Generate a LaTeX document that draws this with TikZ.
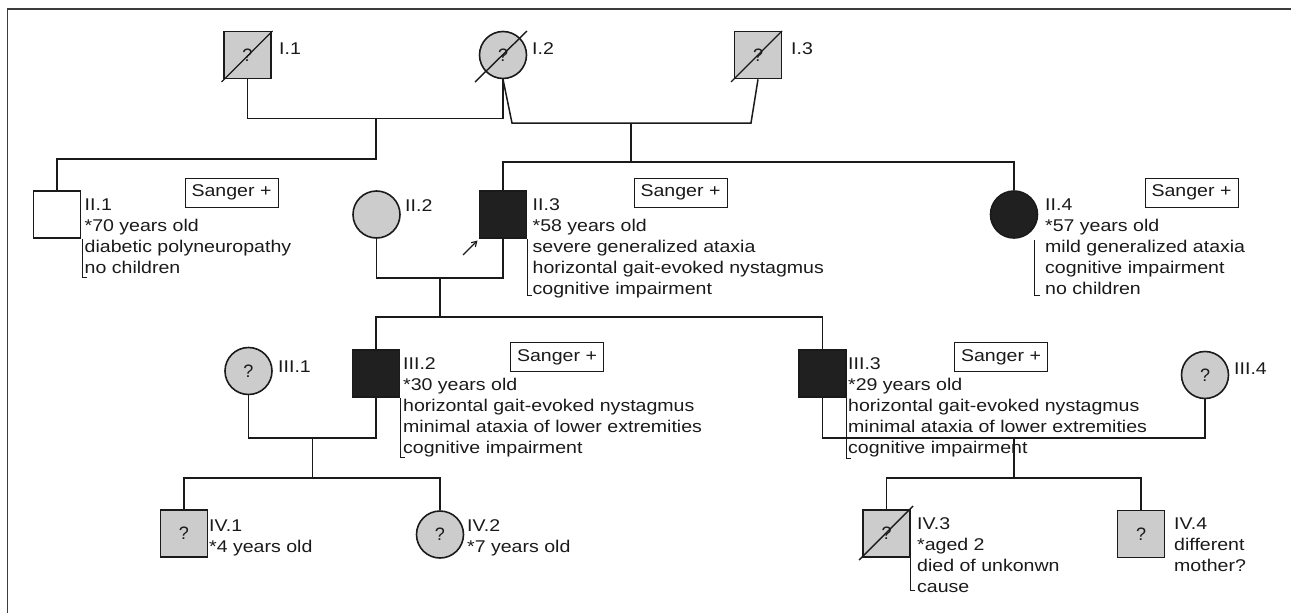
\documentclass[tikz,border=0pt]{standalone}
\usepackage{fontspec}
\setmainfont{Liberation Sans}
\newfontfamily\widefont[FakeStretch=1.15]{Liberation Sans}
\usetikzlibrary{arrows.meta}
\definecolor{unk}{HTML}{CCCCCC}
\definecolor{aff}{HTML}{202020}
\definecolor{ink}{HTML}{1A1A1A}
\tikzset{
  sym/.style={draw=ink, line width=1.6pt, inner sep=0pt, minimum size=47pt, font=\fontsize{18}{18}\selectfont, text=ink},
  male/.style={sym, rectangle},
  female/.style={sym, circle},
  unkn/.style={fill=unk},
  affd/.style={fill=aff},
  healthy/.style={fill=white},
  conn/.style={draw=ink, line width=1.5pt},
  brk/.style={draw=ink, line width=0.9pt},
  dead/.style={draw=ink, line width=1.4pt},
  info/.style={anchor=north west, inner sep=0pt, align=left, font=\widefont\fontsize{17}{21}\selectfont, text=ink},
  sanger/.style={draw=ink, line width=0.8pt, minimum width=93pt, minimum height=29pt, inner sep=0pt, font=\widefont\fontsize{17}{21}\selectfont, text=ink},
  frame/.style={draw=ink!85, line width=1.3pt}
}
\begin{document}
\begin{tikzpicture}[x=1pt,y=-1pt]
\useasboundingbox (0,0) rectangle (1291,613);
\draw[frame] (1291,9) -- (7.5,9) -- (7.5,613);

% generation I
\node[male,unkn] (I1) at (247.5,55) {?};
\node[female,unkn] (I2) at (503,55) {?};
\node[male,unkn] (I3) at (758,55) {?};
\draw[dead] (I1.center) ++(-26,27) -- ++(51,-51);
\draw[dead] (I2.center) ++(-28,27) -- ++(52,-51);
\draw[dead] (I3.center) ++(-27,27) -- ++(51,-51);
\node[info] (tI1) at (279,42.8) {I.1};
\node[info] (tI2) at (532,42.8) {I.2};
\node[info] (tI3) at (791,42.8) {I.3};

% generation II
\node[male,healthy] (II1) at (57,214.5) {};
\node[female,unkn] (II2) at (376.5,214.5) {};
\node[male,affd] (II3) at (503,214.5) {};
\node[female,affd] (II4) at (1014,214.5) {};
\node[info] (tII1) at (84.5,198.8) {II.1\\*70 years old\\diabetic polyneuropathy\\no children};
\node[info] (tII2) at (405,199.8) {II.2};
\node[info] (tII3) at (532.5,198.8) {II.3\\*58 years old\\severe generalized ataxia\\horizontal gait-evoked nystagmus\\cognitive impairment};
\node[info] (tII4) at (1045,198.8) {II.4\\*57 years old\\mild generalized ataxia\\cognitive impairment\\no children};
\node[sanger] (sII1) at (231.5,192.5) {Sanger +};
\node[sanger] (sII3) at (680.5,192.5) {Sanger +};
\node[sanger] (sII4) at (1191.5,192.5) {Sanger +};

% generation III
\node[female,unkn] (III1) at (248.5,371) {?};
\node[male,affd] (III2) at (376,373.5) {};
\node[male,affd] (III3) at (822.5,373.5) {};
\node[female,unkn] (III4) at (1205,375) {?};
\node[info] (tIII1) at (278,360.8) {III.1};
\node[info] (tIII2) at (403,357.8) {III.2\\*30 years old\\horizontal gait-evoked nystagmus\\minimal ataxia of lower extremities\\cognitive impairment};
\node[info] (tIII3) at (848,357.8) {III.3\\*29 years old\\horizontal gait-evoked nystagmus\\minimal ataxia of lower extremities\\cognitive impairment};
\node[info] (tIII4) at (1234,362.8) {III.4};
\node[sanger] (sIII2) at (557,357) {Sanger +};
\node[sanger] (sIII3) at (1001,357) {Sanger +};

% generation IV
\node[male,unkn] (IV1) at (184,533.5) {?};
\node[female,unkn] (IV2) at (440,534.5) {?};
\node[male,unkn] (IV3) at (886.5,533.5) {?};
\node[male,unkn] (IV4) at (1141,534) {?};
\draw[dead] (IV3.center) ++(-27.5,26.5) -- ++(54,-54);
\node[info] (tIV1) at (209,519.8) {IV.1\\*4 years old};
\node[info] (tIV2) at (467,519.8) {IV.2\\*7 years old};
\node[info] (tIV3) at (917,517.8) {IV.3\\*aged 2\\died of unkonwn\\cause};
\node[info] (tIV4) at (1174,517.8) {IV.4\\different\\mother?};

% mating and sibship lines
\coordinate (m1) at (376,118.5);
\coordinate (m2a) at (512,123);
\coordinate (m2b) at (751,123);
\coordinate (m2) at (631,123);
\coordinate (s1) at (376,159);
\coordinate (s2) at (631,162);
\draw[conn] (I1.south) |- (m1) -| (I2.south);
\draw[conn] (I2.south) -- (m2a) -- (m2b) -- (I3.south);
\draw[conn] (m1) -- (s1) -| (II1.north);
\draw[conn] (m2) -- (s2);
\draw[conn] (II3.north) |- (s2) -| (II4.north);

\coordinate (m3) at (440,278);
\coordinate (s3) at (440,317);
\draw[conn] (II2.south) |- (m3) -| (II3.south);
\draw[conn] (m3) -- (s3);
\draw[conn] (III2.north) |- (s3) -| (III3.north);

\coordinate (m4) at (312.5,438);
\coordinate (s4) at (312.5,478);
\draw[conn] (III1.south) |- (m4) -| (III2.south);
\draw[conn] (m4) -- (s4);
\draw[conn] (IV1.north) |- (s4) -| (IV2.north);

\coordinate (m5) at (1014,438);
\coordinate (s5) at (1014,478);
\draw[conn] (III3.south) |- (m5) -| (III4.south);
\draw[conn] (m5) -- (s5);
\draw[conn] (IV3.north) |- (s5) -| (IV4.north);

% brackets to the descriptions
\draw[brk] (II1.south east) ++(1,0) -- ++(0,39) -- ++(4.5,0);
\draw[brk] (II3.south east) -- ++(0,57) -- ++(5,0);
\draw[brk] (1034,240) -- (1034,295) -- (1040,295);
\draw[brk] (III2.south east) -- ++(0,60) -- ++(4.5,0);
\draw[brk] (III3.south east) -- ++(0,61) -- ++(4.5,0);
\draw[brk] (IV3.south east) -- ++(0,33) -- ++(4.5,0);

% proband arrow
\coordinate (pa) at (463,255);
\coordinate (pb) at (477.5,240.5);
\draw[draw=ink, line width=1.1pt, -{Straight Barb[length=5pt,width=6pt]}] (pa) -- (pb);
\end{tikzpicture}
\end{document}
